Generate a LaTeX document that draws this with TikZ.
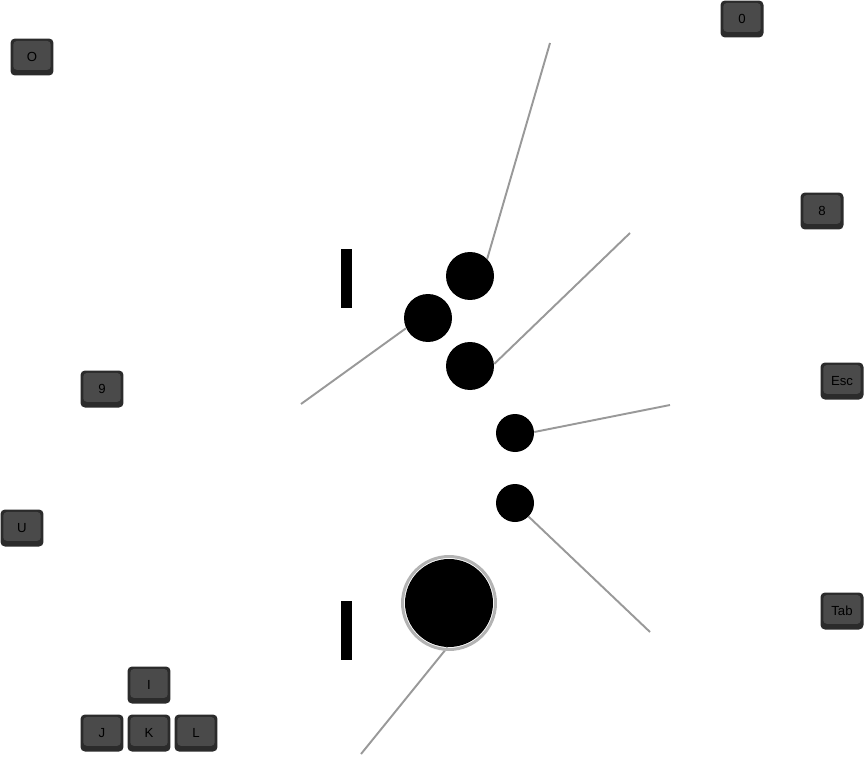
\documentclass[tikz,border=0pt]{standalone}
\usepackage{fontspec}
\setmainfont{Liberation Sans}
\usetikzlibrary{positioning}
\definecolor{keyside}{HTML}{2B2B2B}
\definecolor{keytop}{HTML}{4A4A4A}
\definecolor{wiregray}{HTML}{999999}
\definecolor{ringgray}{HTML}{B3B3B3}

\begin{document}
\begin{tikzpicture}[x=0.02cm,y=-0.02cm]
  \tikzstyle{keycap}=[rounded corners=2.5pt,fill=keyside,minimum width=0.86cm,minimum height=0.74cm,inner sep=0pt,
    font=\fontsize{7.5}{9}\selectfont,
    path picture={\fill[keytop,rounded corners=2pt] ([xshift=1.6pt,yshift=3.2pt]path picture bounding box.south west)
      rectangle ([xshift=-1.6pt,yshift=-1.4pt]path picture bounding box.north east);}]
  \tikzstyle{btn}=[circle,fill=black,inner sep=0pt,minimum size=0.96cm]
  \tikzstyle{smallbtn}=[circle,fill=black,inner sep=0pt,minimum size=0.76cm]
  \tikzstyle{bar}=[fill=black,inner sep=0pt,minimum width=0.22cm,minimum height=1.18cm]
  \tikzstyle{wire}=[wiregray,line width=1.1pt]
  \useasboundingbox (0,0) rectangle (868,757);

  % keys
  \node[keycap] (kO) at (32,57) {O};
  \node[keycap] (k0) at (742,19) {0};
  \node[keycap] (k8) at (822,211) {8};
  \node[keycap] (k9) at (102,389) {9};
  \node[keycap] (kEsc) at (842,381) {Esc};
  \node[keycap] (kU) at (22,528) {U};
  \node[keycap] (kTab) at (842,611) {Tab};
  \node[keycap] (kI) at (149,685) {I};
  \node[keycap] (kJ) at (102,733) {J};
  \node[keycap] (kK) at (149,733) {K};
  \node[keycap] (kL) at (196,733) {L};

  % shoulder bars
  \node[bar] (barup) at (346.5,278.5) {};
  \node[bar] (bardown) at (346.5,630.5) {};

  % buttons
  \node[btn] (btop) at (470,276) {};
  \node[btn] (bleft) at (428,318) {};
  \node[btn] (bmid) at (470,366) {};
  \node[smallbtn] (sone) at (515,433) {};
  \node[smallbtn] (stwo) at (515,503) {};
  \node[circle,fill=black,inner sep=0pt,minimum size=1.76cm] (big) at (449,603) {};

  % wire ends
  \coordinate (etop) at (550,43);
  \coordinate (eleft) at (301,404);
  \coordinate (emid) at (630,233);
  \coordinate (eone) at (670,405);
  \coordinate (etwo) at (650,632);
  \coordinate (ebig) at (361,754);

  \draw[wire] (btop.45) -- (etop);
  \draw[wire] (bleft.205) -- (eleft);
  \draw[wire] (bmid.5) -- (emid);
  \draw[wire] (sone.3) -- (eone);
  \draw[wire] (stwo.-45) -- (etwo);
  \draw[wire] (big.-92) -- (ebig);
  \draw[ringgray,line width=0.06cm] (big.center) circle (0.93cm);
\end{tikzpicture}
\end{document}
